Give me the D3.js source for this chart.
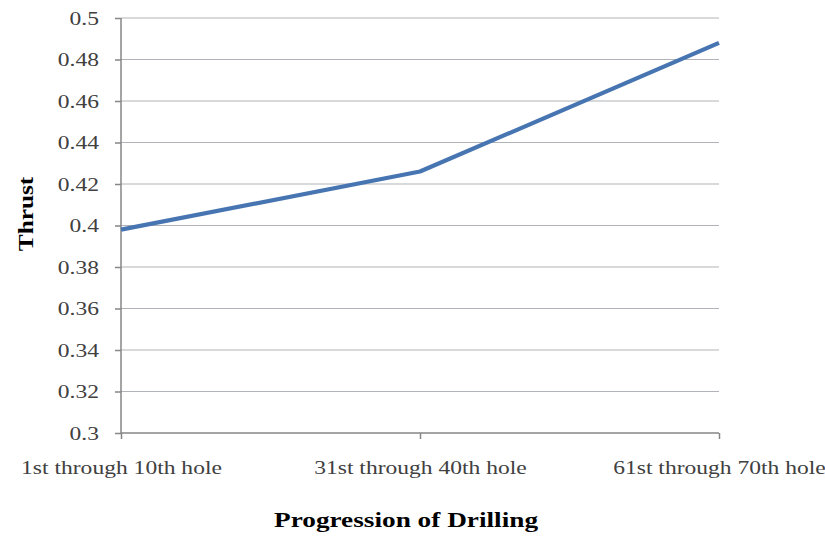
<!DOCTYPE html>
<html>
<head>
<meta charset="utf-8">
<script src="https://cdn.jsdelivr.net/npm/d3@7"></script>
<style>
  body { margin: 0; background: #fff; }
  .tick text { font-family: "Liberation Serif", "Times New Roman", serif; fill: #404040; }
</style>
</head>
<body>
<svg id="chart"></svg>
<script>
// data
var categories = ["1st through 10th hole", "31st through 40th hole", "61st through 70th hole"];
var thrust = [0.398, 0.426, 0.488];
var yTicks = [0.3, 0.32, 0.34, 0.36, 0.38, 0.4, 0.42, 0.44, 0.46, 0.48, 0.5];

var W = 825, H = 537;
var plot = { left: 121, right: 719, top: 18, bottom: 433 };
var stretch = 1.24; // reference text is stretched horizontally

var svg = d3.select("#chart").attr("width", W).attr("height", H);

var x = d3.scalePoint().domain(categories).range([plot.left, plot.right]);
var y = d3.scaleLinear().domain([0.3, 0.5]).range([plot.bottom, plot.top]);

// gridlines
svg.append("g")
  .selectAll("line")
  .data(yTicks.filter(function(d) { return d > 0.3; }))
  .enter().append("line")
  .attr("x1", plot.left).attr("x2", plot.right)
  .attr("y1", function(d) { return y(d); })
  .attr("y2", function(d) { return y(d); })
  .attr("stroke", "#b0b4b8")
  .attr("stroke-width", 1.2);

// y axis
var yAxis = svg.append("g")
  .attr("transform", "translate(" + plot.left + ",0)")
  .call(d3.axisLeft(y).tickValues(yTicks).tickSize(6).tickPadding(0).tickFormat(d3.format("")));
yAxis.selectAll("path, line").attr("stroke", "#868686").attr("stroke-width", 1.5);
yAxis.select(".domain").attr("d", "M0," + plot.top + "V" + plot.bottom);
yAxis.selectAll("text")
  .attr("font-size", 19)
  .attr("x", 0).attr("dy", "0.33em")
  .attr("text-anchor", "end")
  .attr("transform", "translate(-22,0) scale(" + stretch + ",1)");

// x axis
var xAxis = svg.append("g")
  .attr("transform", "translate(0," + plot.bottom + ")")
  .call(d3.axisBottom(x).tickSize(6).tickPadding(0));
xAxis.selectAll("path, line").attr("stroke", "#868686").attr("stroke-width", 1.5);
xAxis.select(".domain").attr("d", "M" + plot.left + ",0H" + plot.right);
xAxis.selectAll(".tick text")
  .attr("font-size", 19)
  .attr("y", 0).attr("dy", 0)
  .attr("transform", "translate(0,41) scale(" + stretch + ",1)");

// series line
var line = d3.line()
  .x(function(d, i) { return x(categories[i]); })
  .y(function(d) { return y(d); });

svg.append("path")
  .datum(thrust)
  .attr("d", line)
  .attr("fill", "none")
  .attr("stroke", "#4675b2")
  .attr("stroke-width", 4.2)
  .attr("stroke-linejoin", "round");

// axis titles
svg.append("text")
  .attr("transform", "translate(406,527) scale(" + stretch + ",1)")
  .attr("text-anchor", "middle")
  .attr("font-family", "Liberation Serif, Times New Roman, serif")
  .attr("font-weight", "bold")
  .attr("font-size", 22)
  .attr("fill", "#000")
  .text("Progression of Drilling");

svg.append("text")
  .attr("transform", "translate(33,214) rotate(-90) scale(1.15,1)")
  .attr("text-anchor", "middle")
  .attr("font-family", "Liberation Serif, Times New Roman, serif")
  .attr("font-weight", "bold")
  .attr("font-size", 22)
  .attr("fill", "#000")
  .text("Thrust");
</script>
</body>
</html>
